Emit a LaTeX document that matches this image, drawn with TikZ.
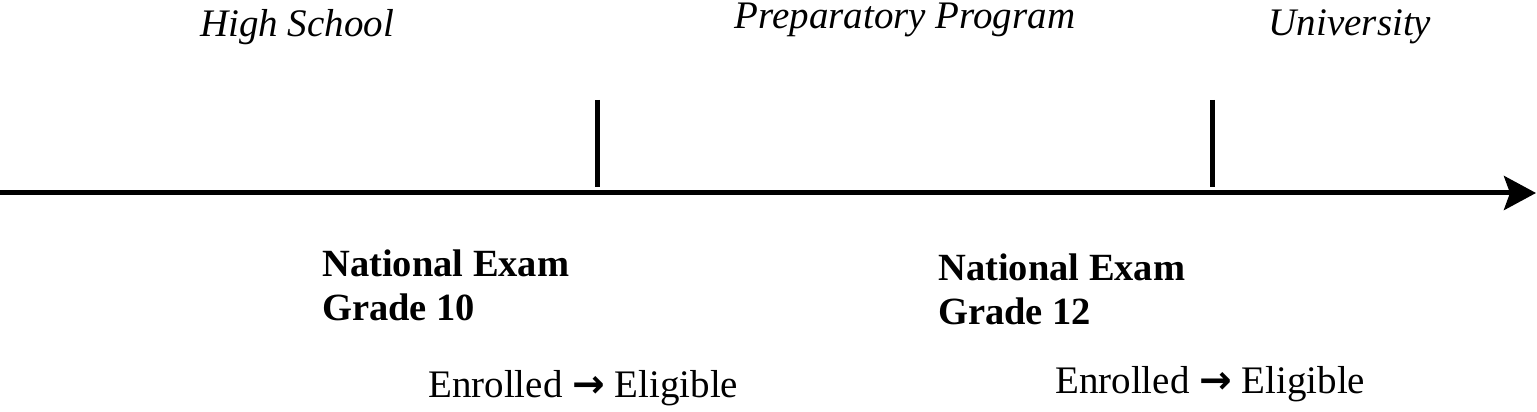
\documentclass[tikz,border=0pt]{standalone}
\usepackage{fontspec}
\setmainfont{Liberation Serif}
\newfontfamily\arrfont{DejaVu Sans}
\usetikzlibrary{arrows.meta}
\begin{document}
\begin{tikzpicture}[x=1pt,y=1pt,
  era/.style={font=\fontsize{39}{44}\selectfont\itshape,inner sep=0},
  exam/.style={font=\fontsize{38.5}{44}\selectfont\bfseries,align=left,anchor=north west,inner sep=0},
  stat/.style={font=\fontsize{39}{44}\selectfont,anchor=west,inner sep=0},
  tick/.style={line width=5pt}]
\useasboundingbox (0,0) rectangle (1537,412);
\coordinate (s) at (0,219);
\coordinate (e) at (1536,219);
\draw[line width=5pt,-{Stealth[length=32pt,width=34pt,inset=6pt]}] (s) -- (e);
\coordinate (t1a) at (597,312); \coordinate (t1b) at (597,225);
\coordinate (t2a) at (1212,312); \coordinate (t2b) at (1212,225);
\draw[tick] (t1a) -- (t1b);
\draw[tick] (t2a) -- (t2b);
\node[era] (hs) at (297,385) {High School};
\node[era] (pp) at (905,392) {Preparatory Program};
\node[era] (un) at (1350,385) {University};
\node[exam] (n10) at (322,162) {National Exam\\Grade 10};
\node[exam] (n12) at (938,158) {National Exam\\Grade 12};
\node[stat] (e10) at (428,24) {Enrolled {\arrfont\bfseries →} Eligible};
\node[stat] (e12) at (1055,28) {Enrolled {\arrfont\bfseries →} Eligible};
\end{tikzpicture}
\end{document}
